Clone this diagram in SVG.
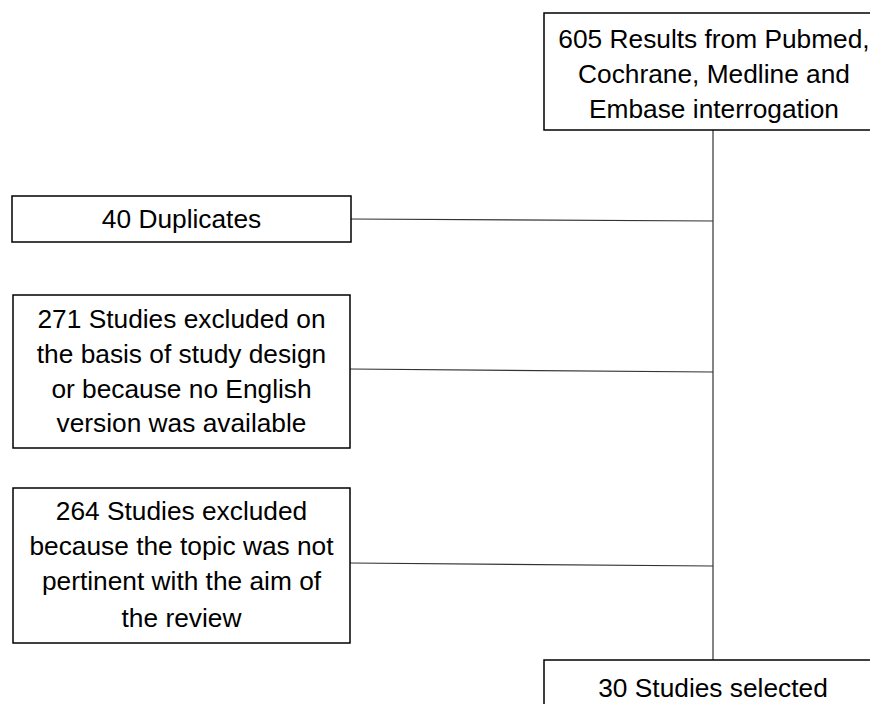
<svg xmlns="http://www.w3.org/2000/svg" width="870" height="704" viewBox="0 0 870 704">
<style>
.box{fill:#fff;stroke:#000;stroke-width:1.5}
.t{font-family:"Liberation Sans",Arial,sans-serif;font-size:26.3px;fill:#000;text-anchor:middle}
.c{stroke:#333;stroke-width:1.2;fill:none}
</style>
<rect width="870" height="704" fill="#fff"/>
<g id="connectors">
<line class="c" x1="713" y1="130" x2="713" y2="660"/>
<line class="c" x1="351" y1="219" x2="713" y2="221"/>
<line class="c" x1="350" y1="369" x2="713" y2="372"/>
<line class="c" x1="350" y1="563" x2="713" y2="566"/>
</g>
<g id="n_results">
<rect class="box" x="544" y="13" width="338" height="117"/>
<text class="t" x="714" y="48">605 Results from Pubmed,</text>
<text class="t" x="714" y="83">Cochrane, Medline and</text>
<text class="t" x="714" y="118">Embase interrogation</text>
</g>
<g id="n_duplicates">
<rect class="box" x="12" y="196" width="339" height="46"/>
<text class="t" x="181.5" y="228">40 Duplicates</text>
</g>
<g id="n_design">
<rect class="box" x="13" y="295" width="337" height="153"/>
<text class="t" x="181.5" y="328">271 Studies excluded on</text>
<text class="t" x="181.5" y="363">the basis of study design</text>
<text class="t" x="181.5" y="398">or because no English</text>
<text class="t" x="181.5" y="432">version was available</text>
</g>
<g id="n_topic">
<rect class="box" x="13" y="488" width="337" height="155"/>
<text class="t" x="181.5" y="520">264 Studies excluded</text>
<text class="t" x="181.5" y="555">because the topic was not</text>
<text class="t" x="181.5" y="590">pertinent with the aim of</text>
<text class="t" x="181.5" y="627">the review</text>
</g>
<g id="n_selected">
<rect class="box" x="544" y="660" width="338" height="60"/>
<text class="t" x="713" y="697">30 Studies selected</text>
</g>
</svg>
